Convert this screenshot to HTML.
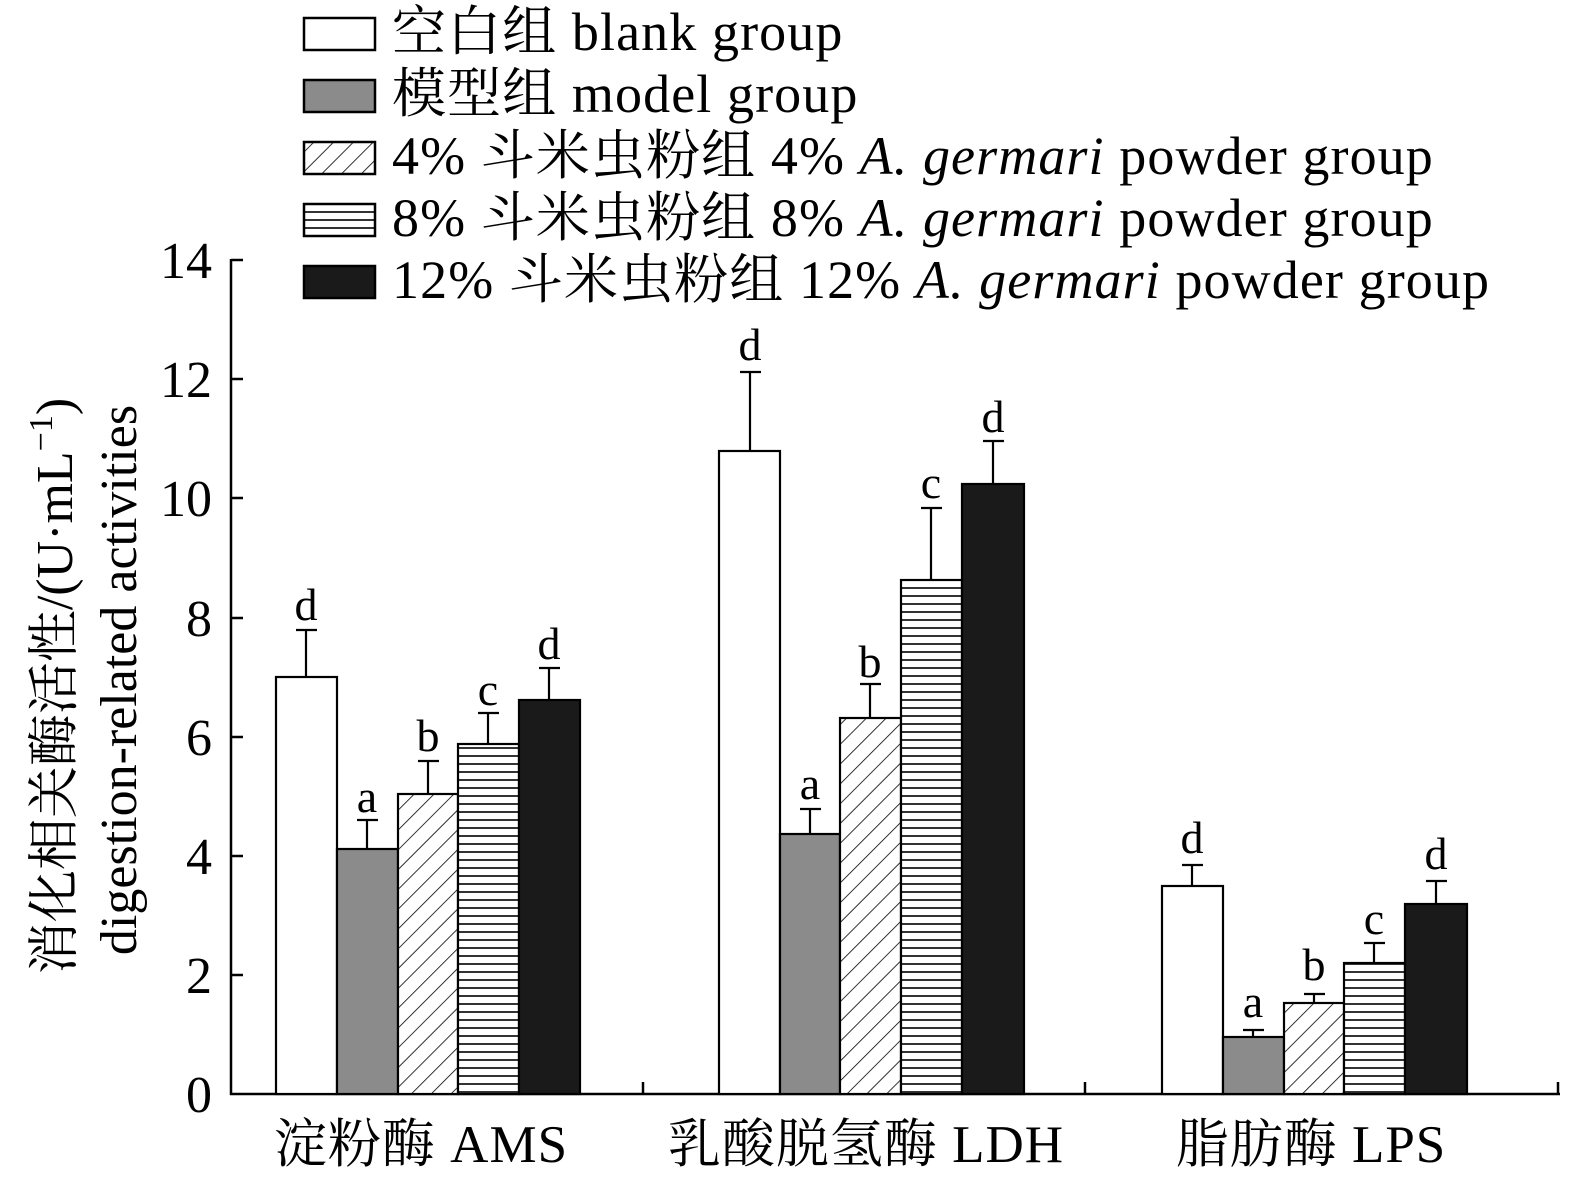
<!DOCTYPE html>
<html><head><meta charset="utf-8"><style>body{margin:0;background:#fff}svg{display:block}text{font-family:"Liberation Serif","Noto Serif CJK SC","Noto Serif CJK JP",serif;fill:#000}</style></head>
<body>
<svg width="1575" height="1184" viewBox="0 0 1575 1184" xmlns="http://www.w3.org/2000/svg">
<defs>
<pattern id="diag" patternUnits="userSpaceOnUse" width="14" height="14" patternTransform="rotate(45)">
<rect width="14" height="14" fill="#fff"/><line x1="0" y1="0" x2="0" y2="14" stroke="#000" stroke-width="1.6"/></pattern>
<pattern id="horiz" patternUnits="userSpaceOnUse" width="10" height="8">
<rect width="10" height="8" fill="#fff"/><line x1="0" y1="4" x2="10" y2="4" stroke="#000" stroke-width="1.6"/></pattern>
</defs>
<g stroke="#000" stroke-width="2.5" fill="none">
<line x1="231" y1="259" x2="231" y2="1095"/>
<line x1="230" y1="1094" x2="1560" y2="1094"/>
<line x1="643" y1="1094" x2="643" y2="1082"/>
<line x1="1085" y1="1094" x2="1085" y2="1082"/>
<line x1="1558" y1="1094" x2="1558" y2="1082"/>
<line x1="231" y1="260" x2="243" y2="260"/>
<line x1="231" y1="379" x2="243" y2="379"/>
<line x1="231" y1="498" x2="243" y2="498"/>
<line x1="231" y1="618" x2="243" y2="618"/>
<line x1="231" y1="737" x2="243" y2="737"/>
<line x1="231" y1="856" x2="243" y2="856"/>
<line x1="231" y1="975" x2="243" y2="975"/>
</g>
<g font-size="52" text-anchor="end">
<text x="212" y="278">14</text><text x="212" y="397">12</text><text x="212" y="516">10</text>
<text x="212" y="636">8</text><text x="212" y="755">6</text><text x="212" y="874">4</text>
<text x="212" y="993">2</text><text x="212" y="1112">0</text>
</g>
<g stroke="#000" stroke-width="2.2">
<rect x="276" y="677" width="61" height="417" fill="#fff"/>
<rect x="337" y="849" width="61" height="245" fill="#8c8b8b"/>
<rect x="398" y="794" width="60" height="300" fill="url(#diag)"/>
<rect x="458" y="744" width="61" height="350" fill="url(#horiz)"/>
<rect x="519" y="700" width="61" height="394" fill="#1a1a1a"/>
<rect x="719" y="451" width="61" height="643" fill="#fff"/>
<rect x="780" y="834" width="60" height="260" fill="#8c8b8b"/>
<rect x="840" y="718" width="61" height="376" fill="url(#diag)"/>
<rect x="901" y="580" width="61" height="514" fill="url(#horiz)"/>
<rect x="962" y="484" width="62" height="610" fill="#1a1a1a"/>
<rect x="1162" y="886" width="61" height="208" fill="#fff"/>
<rect x="1223" y="1037" width="61" height="57" fill="#8c8b8b"/>
<rect x="1284" y="1003" width="60" height="91" fill="url(#diag)"/>
<rect x="1344" y="963" width="61" height="131" fill="url(#horiz)"/>
<rect x="1405" y="904" width="62" height="190" fill="#1a1a1a"/>
</g>
<g stroke="#000" stroke-width="2.2" fill="none">
<path d="M306 677V630M296 630H317"/><path d="M367 849V820M357 820H378"/><path d="M428 794V761M418 761H439"/><path d="M488 744V713M478 713H499"/><path d="M549 700V668M539 668H560"/>
<path d="M750 451V372M740 372H761"/><path d="M810 834V809M800 809H821"/><path d="M870 718V684M860 684H881"/><path d="M931 580V508M921 508H942"/><path d="M993 484V441M983 441H1004"/>
<path d="M1192 886V865M1182 865H1203"/><path d="M1253 1037V1030M1243 1030H1264"/><path d="M1314 1003V994M1304 994H1325"/><path d="M1374 963V943M1364 943H1385"/><path d="M1436 904V881M1426 881H1447"/>
</g>
<g font-size="46" text-anchor="middle">
<text x="306" y="620">d</text><text x="367" y="812">a</text><text x="428" y="751">b</text><text x="488" y="705">c</text><text x="549" y="659">d</text>
<text x="750" y="360">d</text><text x="810" y="799">a</text><text x="870" y="677">b</text><text x="931" y="498">c</text><text x="993" y="432">d</text>
<text x="1192" y="853">d</text><text x="1253" y="1017">a</text><text x="1314" y="980">b</text><text x="1374" y="934">c</text><text x="1436" y="869">d</text>
</g>
<g font-size="53" text-anchor="middle" letter-spacing="1">
<text x="421" y="1162">淀粉酶 AMS</text>
<text x="866" y="1162">乳酸脱氢酶 LDH</text>
<text x="1311" y="1162">脂肪酶 LPS</text>
</g>
<g transform="translate(72,686) rotate(-90)" font-size="52" text-anchor="middle"><text x="0" y="0">消化相关酶活性/(U·mL<tspan dy="-20" font-size="34">−1</tspan><tspan dy="20">)</tspan></text></g>
<g transform="translate(136,680) rotate(-90)" font-size="52" text-anchor="middle"><text x="0" y="0">digestion-related activities</text></g>
<g stroke="#000" stroke-width="2.5">
<rect x="304" y="18" width="71" height="32" fill="#fff"/>
<rect x="304" y="80" width="71" height="32" fill="#8c8b8b"/>
<rect x="304" y="142" width="71" height="32" fill="url(#diag)"/>
<rect x="304" y="204" width="71" height="32" fill="url(#horiz)"/>
<rect x="304" y="266" width="71" height="32" fill="#1a1a1a"/>
</g>
<g font-size="54" letter-spacing="1.1">
<text x="392" y="50">空白组 blank group</text>
<text x="392" y="112">模型组 model group</text>
<text x="392" y="174">4% 斗米虫粉组 4% <tspan font-style="italic">A. germari</tspan> powder group</text>
<text x="392" y="236">8% 斗米虫粉组 8% <tspan font-style="italic">A. germari</tspan> powder group</text>
<text x="392" y="298">12% 斗米虫粉组 12% <tspan font-style="italic">A. germari</tspan> powder group</text>
</g>
</svg>
</body></html>
